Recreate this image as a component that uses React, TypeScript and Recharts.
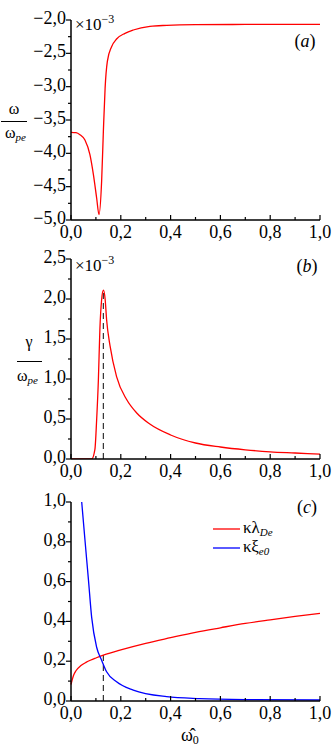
import React from 'react';
import { LineChart, Line, XAxis, YAxis, ReferenceLine } from 'recharts';

// panel (a): omega / omega_pe, x10^-3
const aX = [0, 0.02, 0.036, 0.056, 0.076, 0.09, 0.103, 0.1125, 0.123, 0.13, 0.137, 0.146, 0.163, 0.183, 0.217, 0.25, 0.317, 0.385, 0.5, 0.7, 1.0];
const aY = [-3.685, -3.69, -3.72, -3.8, -4.02, -4.32, -4.67, -4.92, -4.42, -3.67, -3.02, -2.62, -2.4, -2.285, -2.2, -2.15, -2.095, -2.08, -2.07, -2.067, -2.065];

// panel (b): gamma / omega_pe, x10^-3
const bX = [0, 0.083, 0.096, 0.103, 0.11, 0.116, 0.123, 0.13, 0.137, 0.143, 0.157, 0.183, 0.224, 0.264, 0.315, 0.4, 0.5, 0.6, 0.7, 0.8, 0.9, 1.0];
const bY = [0, 0, 0.12, 0.49, 0.99, 1.62, 1.99, 2.11, 2.0, 1.74, 1.41, 1.03, 0.74, 0.575, 0.44, 0.3, 0.2, 0.15, 0.115, 0.09, 0.075, 0.06];

// panel (c): kappa*lambda_De (red), kappa*xi_e0 (blue)
const lambdaX = [0, 0.01, 0.02, 0.04, 0.06, 0.08, 0.1, 0.13, 0.2, 0.3, 0.4, 0.5, 0.6, 0.7, 0.8, 0.9, 1.0];
const lambdaY = [0.083, 0.128, 0.152, 0.178, 0.194, 0.206, 0.216, 0.23, 0.257, 0.29, 0.318, 0.345, 0.368, 0.39, 0.408, 0.425, 0.44];
const xiX = [0.043, 0.056, 0.07, 0.083, 0.103, 0.123, 0.143, 0.183, 0.25, 0.384, 0.518, 0.7, 1.0];
const xiY = [1.0, 0.81, 0.61, 0.42, 0.27, 0.205, 0.147, 0.097, 0.055, 0.022, 0.012, 0.007, 0.005];

const peakX = 0.13;
const peakB = 2.11;
const peakC = 0.247;

const xTicks = [0, 0.1, 0.2, 0.3, 0.4, 0.5, 0.6, 0.7, 0.8, 0.9, 1.0];
const aTicks = [-5, -4.75, -4.5, -4.25, -4, -3.75, -3.5, -3.25, -3, -2.75, -2.5, -2.25, -2];
const bTicks = [0, 0.25, 0.5, 0.75, 1, 1.25, 1.5, 1.75, 2, 2.25, 2.5];
const cTicks = [0, 0.1, 0.2, 0.3, 0.4, 0.5, 0.6, 0.7, 0.8, 0.9, 1.0];

const FONT = "'Liberation Serif', 'Times New Roman', Times, serif";
const W = 332;

const toRows = (xs: number[], ys: number[]) => xs.map((x, i) => ({ x, y: ys[i] }));

const fmt = (v: number) => v.toFixed(1).replace('.', ',').replace('-', '\u2212');

const isMajor = (v: number, step: number) => Math.abs(v / step - Math.round(v / step)) < 1e-6;

const XTick = (props: any) => {
  const { x, y, payload } = props;
  const major = isMajor(payload.value, 0.2);
  return (
    <g>
      <line x1={x} x2={x} y1={y} y2={y - (major ? 5 : 3)} stroke="#000" strokeWidth={1.2} />
      {major && (
        <text x={x} y={y + 18} textAnchor="middle" style={{ fontFamily: FONT, fontSize: 18 }} fill="#000">
          {fmt(payload.value)}
        </text>
      )}
    </g>
  );
};

const makeYTick = (step: number) => (props: any) => {
  const { x, y, payload } = props;
  const major = isMajor(payload.value, step);
  return (
    <g>
      <line x1={x} x2={x - (major ? 5 : 3)} y1={y} y2={y} stroke="#000" strokeWidth={1.2} />
      {major && (
        <text x={x - 5} y={y + 4} textAnchor="end" style={{ fontFamily: FONT, fontSize: 18 }} fill="#000">
          {fmt(payload.value)}
        </text>
      )}
    </g>
  );
};

const axisLine = { stroke: '#000', strokeWidth: 1.5 };

const Overlay = () => (
  <svg width={W} height={756} style={{ position: 'absolute', left: 0, top: 0, pointerEvents: 'none', fontFamily: FONT }}>
    <g fill="#000" style={{ fontFamily: FONT }}>
      {/* panel a */}
      <text x={75} y={30} fontSize={17}>
        ×10<tspan dy={-7} fontSize={12}>−3</tspan>
      </text>
      <text x={305} y={47} fontSize={18} textAnchor="middle">
        (<tspan fontStyle="italic">a</tspan>)
      </text>
      <text x={14} y={114} fontSize={16} textAnchor="middle">ω</text>
      <line x1={1} x2={27} y1={121.5} y2={121.5} stroke="#000" strokeWidth={1} />
      <text x={5} y={138} fontSize={16}>
        ω<tspan dy={3} fontSize={11} fontStyle="italic">pe</tspan>
      </text>

      {/* panel b */}
      <text x={75} y={271} fontSize={17}>
        ×10<tspan dy={-7} fontSize={12}>−3</tspan>
      </text>
      <text x={307} y={272} fontSize={18} textAnchor="middle">
        (<tspan fontStyle="italic">b</tspan>)
      </text>
      <text x={29} y={347} fontSize={16} textAnchor="middle">γ</text>
      <line x1={17} x2={42} y1={361.5} y2={361.5} stroke="#000" strokeWidth={1} />
      <text x={17} y={381} fontSize={16}>
        ω<tspan dy={3} fontSize={11} fontStyle="italic">pe</tspan>
      </text>

      {/* panel c */}
      <text x={307} y={513} fontSize={18} textAnchor="middle">
        (<tspan fontStyle="italic">c</tspan>)
      </text>
      <line x1={213} x2={240} y1={529} y2={529} stroke="#ff0000" strokeWidth={1.3} />
      <text x={243} y={533} fontSize={17}>
        κλ<tspan dy={3} fontSize={11} fontStyle="italic">De</tspan>
      </text>
      <line x1={213} x2={240} y1={548} y2={548} stroke="#0000ff" strokeWidth={1.3} />
      <text x={243} y={552} fontSize={17}>
        κξ<tspan dy={3} fontSize={11} fontStyle="italic">e0</tspan>
      </text>
      <text x={181} y={741} fontSize={18}>
        ω̂<tspan dy={3} fontSize={12}>0</tspan>
      </text>
    </g>
  </svg>
);

export default function App() {
  return (
    <div style={{ position: 'absolute', left: 0, top: 0, width: W, height: 756, background: '#fff', fontFamily: FONT }}>
      <div style={{ position: 'absolute', left: 0, top: 0 }}>
        <LineChart width={W} height={245} margin={{ top: 20, right: 12, left: 0, bottom: 0 }}>
          <XAxis type="number" dataKey="x" domain={[0, 1]} ticks={xTicks} tick={<XTick />} tickLine={false}
            tickSize={0} tickMargin={0} axisLine={axisLine} height={25} interval={0} />
          <YAxis type="number" dataKey="y" domain={[-5, -2]} ticks={aTicks} tick={makeYTick(0.5)} tickLine={false}
            tickSize={0} tickMargin={0} axisLine={axisLine} width={71} interval={0} allowDataOverflow />
          <Line data={toRows(aX, aY)} dataKey="y" type="monotone" stroke="#ff0000" strokeWidth={1.3} dot={false} isAnimationActive={false} />
        </LineChart>
      </div>
      <div style={{ position: 'absolute', left: 0, top: 245 }}>
        <LineChart width={W} height={245} margin={{ top: 14, right: 12, left: 0, bottom: 0 }}>
          <XAxis type="number" dataKey="x" domain={[0, 1]} ticks={xTicks} tick={<XTick />} tickLine={false}
            tickSize={0} tickMargin={0} axisLine={axisLine} height={31} interval={0} />
          <YAxis type="number" dataKey="y" domain={[0, 2.5]} ticks={bTicks} tick={makeYTick(0.5)} tickLine={false}
            tickSize={0} tickMargin={0} axisLine={axisLine} width={71} interval={0} allowDataOverflow />
          <ReferenceLine segment={[{ x: peakX, y: 0 }, { x: peakX, y: peakB }]} stroke="#333" strokeWidth={1.2} strokeDasharray="6 4" />
          <Line data={toRows(bX, bY)} dataKey="y" type="monotone" stroke="#ff0000" strokeWidth={1.3} dot={false} isAnimationActive={false} />
        </LineChart>
      </div>
      <div style={{ position: 'absolute', left: 0, top: 490 }}>
        <LineChart width={W} height={266} margin={{ top: 12, right: 12, left: 0, bottom: 0 }}>
          <XAxis type="number" dataKey="x" domain={[0, 1]} ticks={xTicks} tick={<XTick />} tickLine={false}
            tickSize={0} tickMargin={0} axisLine={axisLine} height={55} interval={0} />
          <YAxis type="number" dataKey="y" domain={[0, 1]} ticks={cTicks} tick={makeYTick(0.2)} tickLine={false}
            tickSize={0} tickMargin={0} axisLine={axisLine} width={71} interval={0} allowDataOverflow />
          <ReferenceLine segment={[{ x: peakX, y: 0 }, { x: peakX, y: peakC }]} stroke="#333" strokeWidth={1.2} strokeDasharray="6 4" />
          <Line data={toRows(lambdaX, lambdaY)} dataKey="y" type="monotone" stroke="#ff0000" strokeWidth={1.3} dot={false} isAnimationActive={false} />
          <Line data={toRows(xiX, xiY)} dataKey="y" type="monotone" stroke="#0000ff" strokeWidth={1.3} dot={false} isAnimationActive={false} />
        </LineChart>
      </div>
      <Overlay />
    </div>
  );
}
